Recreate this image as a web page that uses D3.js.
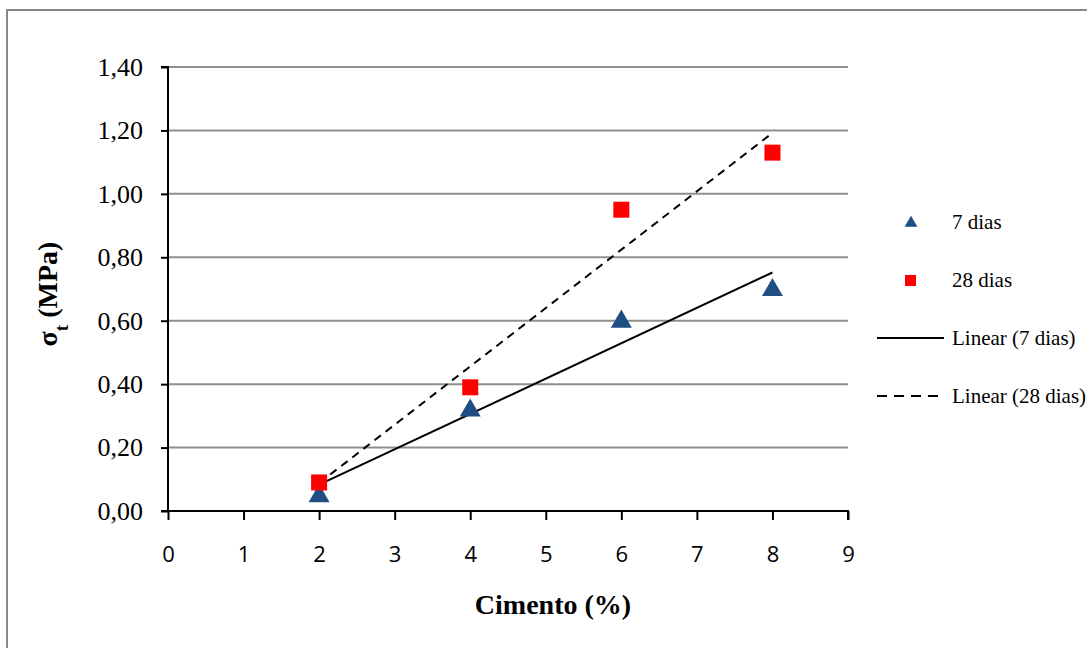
<!DOCTYPE html>
<html>
<head>
<meta charset="utf-8">
<script src="https://cdn.jsdelivr.net/npm/d3@7"></script>
<style>
  body { margin: 0; background: #fff; }
  svg { display: block; }
</style>
</head>
<body>
<svg id="chart"></svg>
<script>
// cement content (%)
const cimento = [2, 4, 6, 8];
// tensile strength (MPa)
const dias7 = [0.05, 0.32, 0.60, 0.70];
const dias28 = [0.09, 0.39, 0.95, 1.13];
const seriesNames = ["7 dias", "28 dias", "Linear (7 dias)", "Linear (28 dias)"];
const xTicks = [0, 1, 2, 3, 4, 5, 6, 7, 8, 9];
const yTicks = [0, 0.2, 0.4, 0.6, 0.8, 1.0, 1.2, 1.4];

const W = 1087, H = 648;
const margin = { top: 67, right: 239, bottom: 137, left: 168 };

const svg = d3.select("#chart").attr("width", W).attr("height", H);

// outer chart frame
svg.append("rect")
   .attr("x", 7).attr("y", 10)
   .attr("width", W + 20).attr("height", H + 20)
   .attr("fill", "none")
   .attr("stroke", "#888").attr("stroke-width", 2);

const x = d3.scaleLinear().domain([0, 9]).range([margin.left, W - margin.right]);
const y = d3.scaleLinear().domain([0, 1.4]).range([H - margin.bottom, margin.top]);

// gridlines
svg.append("g")
   .selectAll("line")
   .data(yTicks.filter(d => d > 0))
   .join("line")
   .attr("x1", x(0)).attr("x2", x(9))
   .attr("y1", d => y(d)).attr("y2", d => y(d))
   .attr("stroke", "#8f8f8f").attr("stroke-width", 2);

const fmt = d => d3.format(".2f")(d).replace(".", ",");

const yAxis = svg.append("g")
   .attr("transform", `translate(${x(0)},0)`)
   .call(d3.axisLeft(y).tickValues(yTicks).tickFormat(fmt).tickSize(7).tickPadding(18));
yAxis.select(".domain").attr("stroke", "#000").attr("stroke-width", 2).attr("d", `M-7,${y(1.4)}H0V${y(0)}`);
yAxis.selectAll(".tick line").attr("stroke", "#000").attr("stroke-width", 2);
yAxis.selectAll("text")
   .attr("font-family", "'Liberation Serif', serif")
   .attr("font-size", 26).attr("fill", "#000");

const xAxis = svg.append("g")
   .attr("transform", `translate(0,${y(0)})`)
   .call(d3.axisBottom(x).tickValues(xTicks).tickSize(9).tickPadding(26));
xAxis.select(".domain").attr("stroke", "#000").attr("stroke-width", 2).attr("d", `M${x(0) - 7},0H${x(9)}V9`);
xAxis.selectAll(".tick line").attr("stroke", "#000").attr("stroke-width", 2);
xAxis.selectAll("text")
   .attr("font-family", "'Open Sans', 'Liberation Sans', sans-serif")
   .attr("font-size", 22).attr("fill", "#000");

// linear trend lines (least squares)
const fit = (xs, ys) => {
    const mx = d3.mean(xs), my = d3.mean(ys);
    const b = d3.sum(xs, (v, i) => (v - mx) * (ys[i] - my)) / d3.sum(xs, v => (v - mx) ** 2);
    const a = my - b * mx;
    const x0 = d3.min(xs), x1 = d3.max(xs);
    return [[x0, a + b * x0], [x1, a + b * x1]];
};
const line = d3.line().x(d => x(d[0])).y(d => y(d[1]));

svg.append("path")
   .attr("d", line(fit(cimento, dias7)))
   .attr("stroke", "#000").attr("stroke-width", 2).attr("fill", "none");
svg.append("path")
   .attr("d", line(fit(cimento, dias28)))
   .attr("stroke", "#000").attr("stroke-width", 2).attr("fill", "none")
   .attr("stroke-dasharray", "8,6");

// markers
const tri = d3.symbol().type(d3.symbolTriangle).size(190);
svg.append("g")
   .selectAll("path")
   .data(cimento.map((c, i) => [c, dias7[i]]))
   .join("path")
   .attr("d", tri)
   .attr("transform", d => `translate(${x(d[0])},${y(d[1]) + 1})`)
   .attr("fill", "#1f4e84");

const sq = 16;
svg.append("g")
   .selectAll("rect")
   .data(cimento.map((c, i) => [c, dias28[i]]))
   .join("rect")
   .attr("x", d => x(d[0]) - sq / 2).attr("y", d => y(d[1]) - sq / 2)
   .attr("width", sq).attr("height", sq)
   .attr("fill", "#ff0000");

// axis titles
svg.append("text")
   .attr("x", 553).attr("y", 614)
   .attr("text-anchor", "middle")
   .attr("font-family", "'Liberation Serif', serif")
   .attr("font-weight", "bold").attr("font-size", 28)
   .text("Cimento (%)");

const yt = svg.append("text")
   .attr("transform", `translate(57,294) rotate(-90)`)
   .attr("text-anchor", "middle")
   .attr("font-family", "'Liberation Serif', serif")
   .attr("font-weight", "bold").attr("font-size", 28);
yt.append("tspan").text("σ");
yt.append("tspan").attr("baseline-shift", "sub").attr("font-size", 19).text("t");
yt.append("tspan").text(" (MPa)");

// legend
const legend = svg.append("g");
const ly = [222, 280, 338, 396];
seriesNames.forEach((name, i) => {
    const g = legend.append("g").attr("transform", `translate(0,${ly[i]})`);
    if (i === 0) {
        g.append("path").attr("d", d3.symbol().type(d3.symbolTriangle).size(70))
         .attr("transform", "translate(911,1)").attr("fill", "#1f4e84");
    } else if (i === 1) {
        g.append("rect").attr("x", 905).attr("y", -5).attr("width", 11).attr("height", 11).attr("fill", "#ff0000");
    } else {
        g.append("line").attr("x1", 877).attr("x2", 944).attr("y1", 0).attr("y2", 0)
         .attr("stroke", "#000").attr("stroke-width", 2)
         .attr("stroke-dasharray", i === 3 ? "10,7" : null);
    }
    g.append("text")
     .attr("x", 952).attr("y", 7)
     .attr("font-family", "'Liberation Serif', serif")
     .attr("font-size", 21)
     .text(name);
});
</script>
</body>
</html>
